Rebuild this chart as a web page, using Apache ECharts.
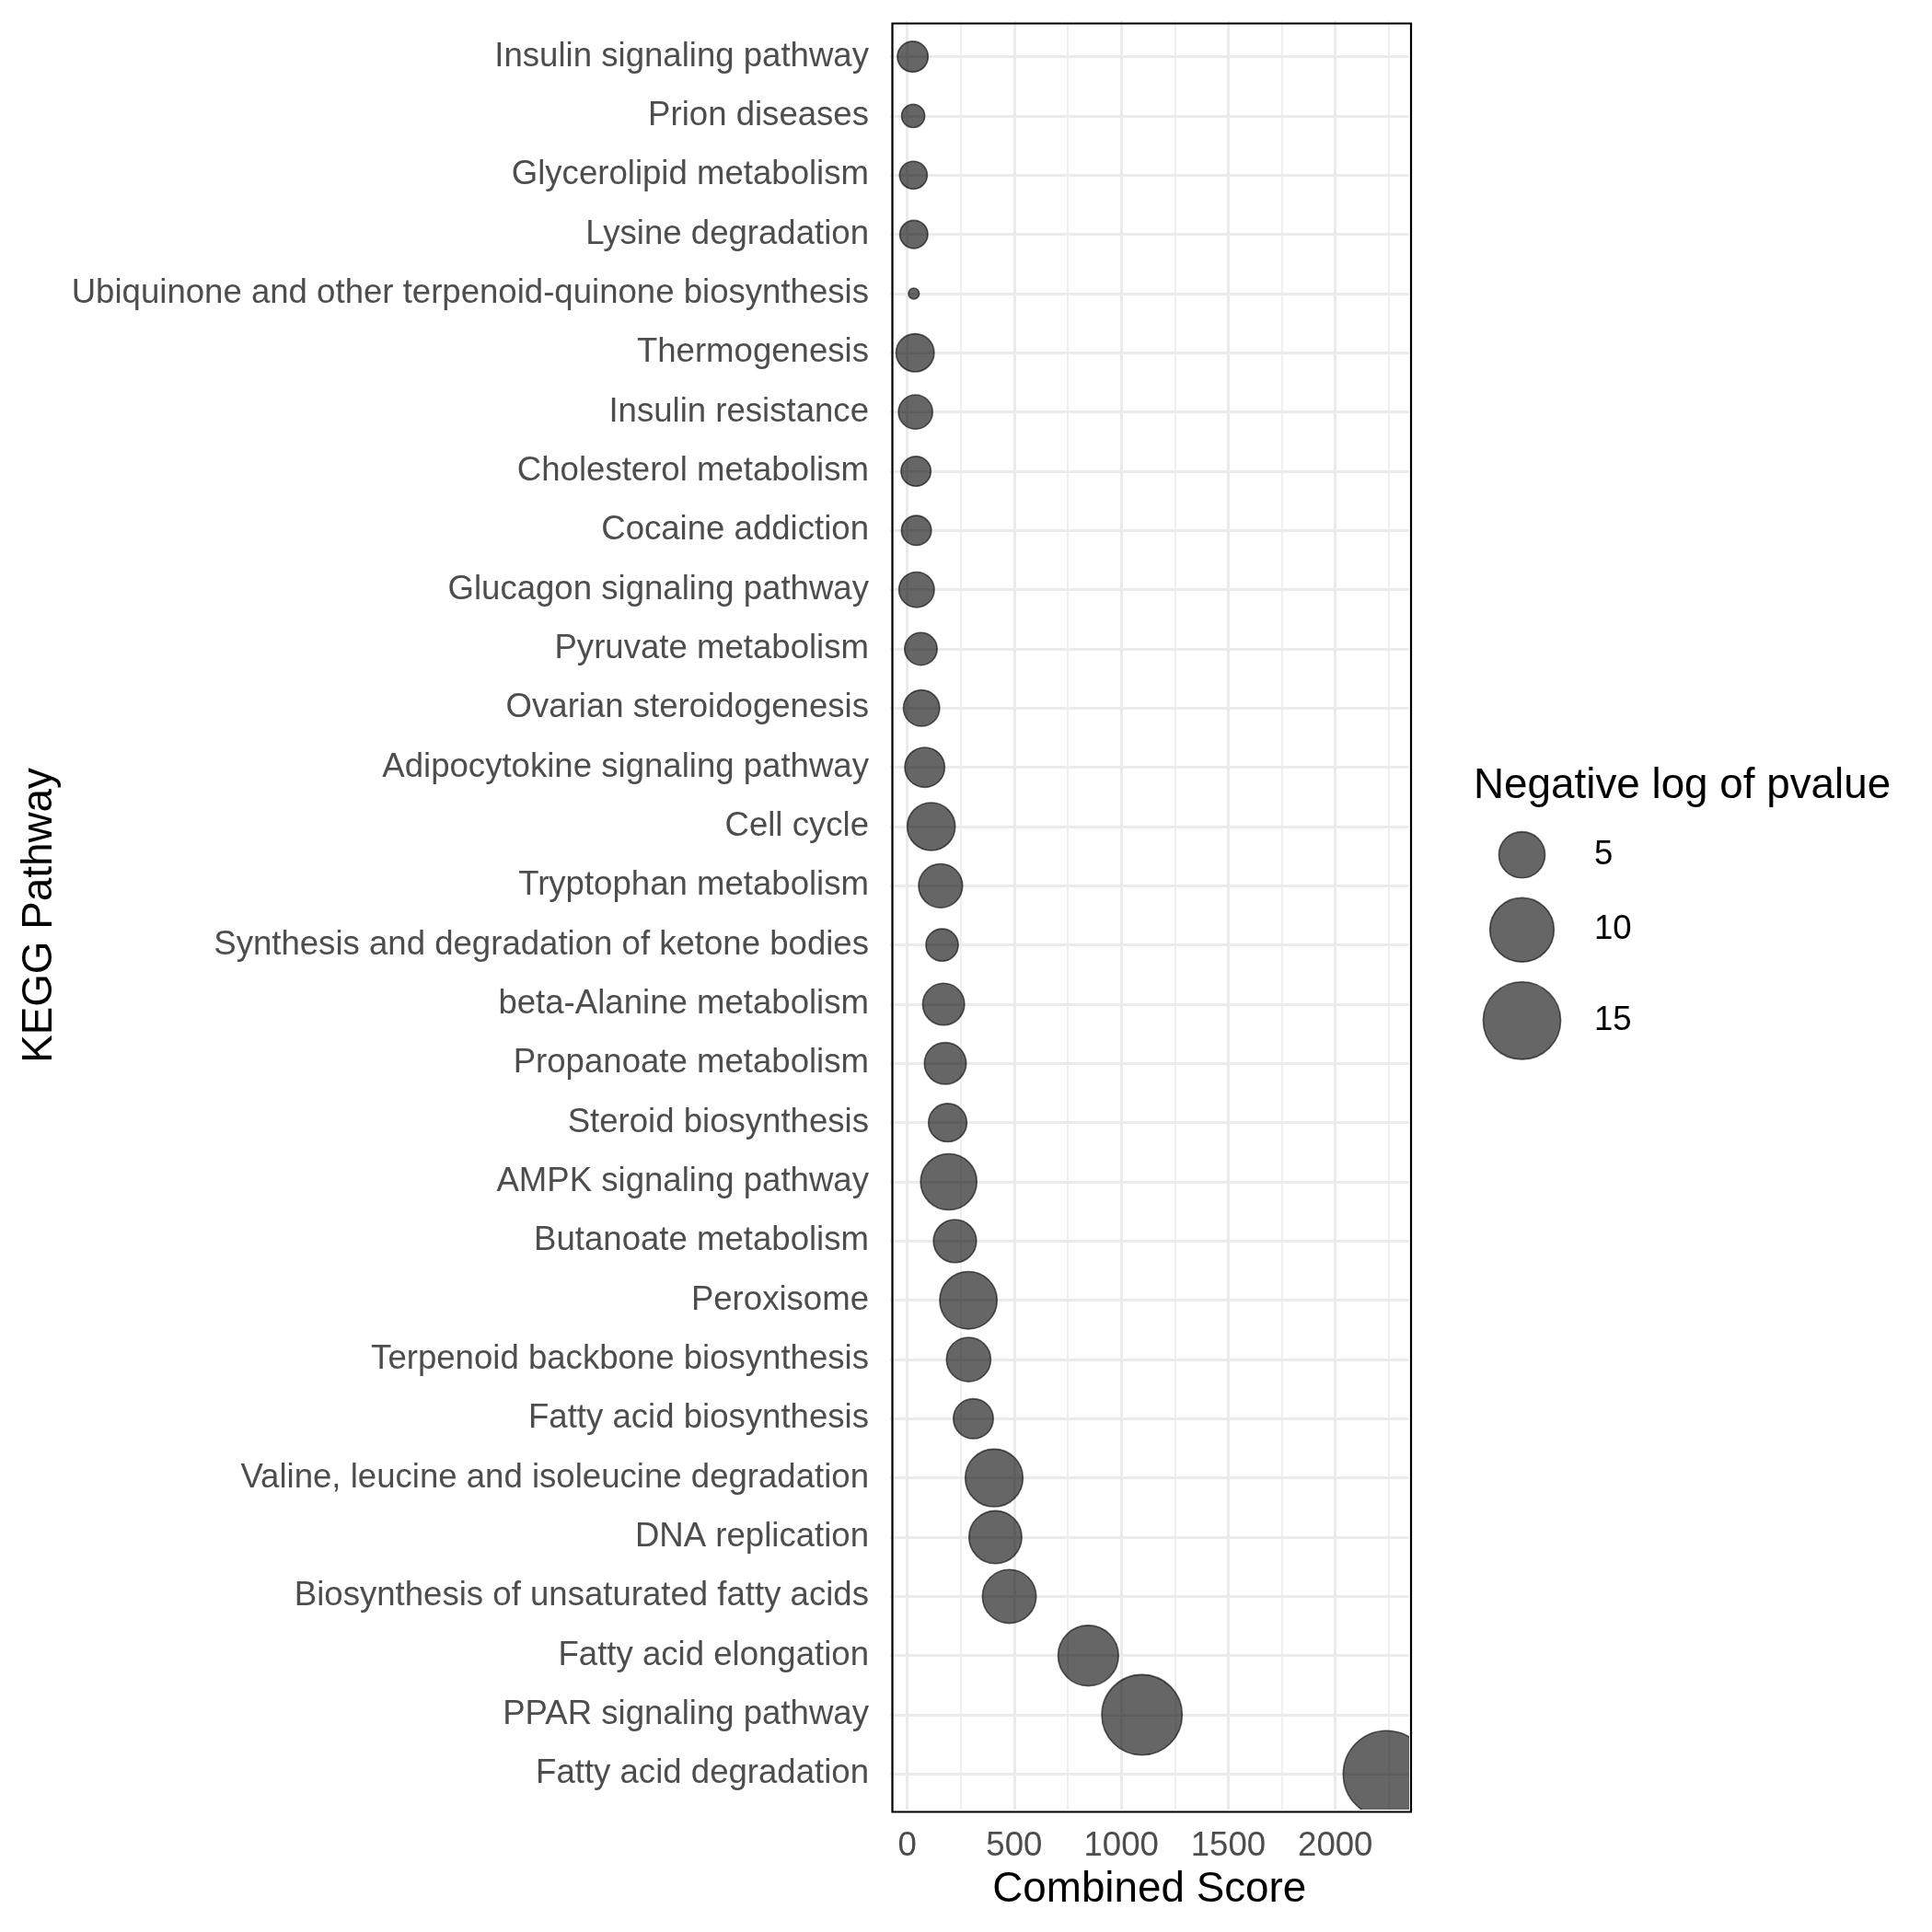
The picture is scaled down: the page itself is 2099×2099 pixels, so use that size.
<!DOCTYPE html>
<html>
<head>
<meta charset="utf-8">
<script src="https://cdn.jsdelivr.net/npm/echarts@6/dist/echarts.min.js"></script>
<style>
  html, body { margin: 0; padding: 0; background: #fff; }
  #chart { width: 2099px; height: 2099px; }
</style>
</head>
<body>
<div id="chart"></div>
<script>
// ---------------- data ----------------
const categories = [
  "Insulin signaling pathway",
  "Prion diseases",
  "Glycerolipid metabolism",
  "Lysine degradation",
  "Ubiquinone and other terpenoid-quinone biosynthesis",
  "Thermogenesis",
  "Insulin resistance",
  "Cholesterol metabolism",
  "Cocaine addiction",
  "Glucagon signaling pathway",
  "Pyruvate metabolism",
  "Ovarian steroidogenesis",
  "Adipocytokine signaling pathway",
  "Cell cycle",
  "Tryptophan metabolism",
  "Synthesis and degradation of ketone bodies",
  "beta-Alanine metabolism",
  "Propanoate metabolism",
  "Steroid biosynthesis",
  "AMPK signaling pathway",
  "Butanoate metabolism",
  "Peroxisome",
  "Terpenoid backbone biosynthesis",
  "Fatty acid biosynthesis",
  "Valine, leucine and isoleucine degradation",
  "DNA replication",
  "Biosynthesis of unsaturated fatty acids",
  "Fatty acid elongation",
  "PPAR signaling pathway",
  "Fatty acid degradation"
];
const combinedScore = [26, 28, 29, 31, 31, 37, 39, 41, 43, 44,
  64, 67, 82, 112, 156, 163, 170, 178, 189, 194,
  223, 286, 287, 309, 406, 412, 477, 846, 1097, 2240];
const negLogP = [2.34, 1.57, 1.99, 2.02, 1.10, 3.42, 2.80, 2.23, 2.23, 2.98,
  2.58, 3.12, 3.75, 5.41, 4.52, 2.54, 4.10, 4.10, 3.47, 7.55,
  4.33, 7.89, 4.60, 3.75, 7.97, 6.62, 6.86, 8.81, 16.26, 19.2];
const xTicks = [0, 500, 1000, 1500, 2000];
const xMinorTicks = [250, 750, 1250, 1750, 2250];
const legendValues = [5, 10, 15];

// ---------------- styling / layout ----------------
const FONT = "Liberation Sans";
const SMALL = 36.6, BIG = 45.8;
const PANEL = { left: 967, top: 23, width: 563.5, height: 1943 };
const X_MIN = -80, X_MAX = 2343;
const BORDER_W = 1.6;
const FILL = "rgba(0,0,0,0.6)";
const vMin = Math.min.apply(null, negLogP);
const vMax = Math.max.apply(null, negLogP);
function bubbleSize(v) {
  const t = Math.sqrt(Math.max(0, (v - vMin) / (vMax - vMin)));
  return 11.8 * (1 + 7 * t);
}
const yIdx = categories.map((_, i) => i);
const mainData = categories.map((c, i) => [combinedScore[i], i, negLogP[i]]);

// legend key layout (ggplot-like: key height = circle + padding)
const keyH = legendValues.map(v => bubbleSize(v) + BORDER_W + 20);
const keyTotal = keyH.reduce((a, b) => a + b, 0);
let acc = 0;
const legendCenterX = 53.5, legendLabelX = 132;
const legendData = legendValues.map((v, i) => {
  const c = acc + keyH[i] / 2; acc += keyH[i];
  return {
    value: [legendCenterX, c, v],
    label: { distance: legendLabelX - legendCenterX - (bubbleSize(v) + BORDER_W) / 2 }
  };
});

const gridLineColor = "#ebebeb";
const markLineData = []
  .concat(xMinorTicks.map(v => ({ xAxis: v, lineStyle: { width: 1.6, color: gridLineColor, type: "solid" } })))
  .concat(xTicks.map(v => ({ xAxis: v, lineStyle: { width: 3, color: gridLineColor, type: "solid" } })))
  .concat(yIdx.map(v => ({ yAxis: v, lineStyle: { width: 3, color: gridLineColor, type: "solid" } })));

const chart = echarts.init(document.getElementById("chart"), null, { renderer: "canvas" });
const option = {
  animation: false,
  backgroundColor: "#ffffff",
  textStyle: { fontFamily: FONT },
  title: {
    text: "Negative log of pvalue",
    left: 1601, top: 831, padding: 0,
    textStyle: { fontFamily: FONT, fontSize: BIG, fontWeight: "normal", color: "#000", lineHeight: 46 }
  },
  grid: [
    { left: PANEL.left, top: PANEL.top, width: PANEL.width, height: PANEL.height },
    { left: 1600, top: 892.85, width: 107, height: keyTotal }
  ],
  xAxis: [
    {
      type: "value", gridIndex: 0, min: X_MIN, max: X_MAX,
      axisLine: { show: false },
      axisTick: { show: true, customValues: xTicks, length: 4, lineStyle: { color: gridLineColor, width: 3 } },
      axisLabel: {
        customValues: xTicks, fontSize: SMALL, color: "#4d4d4d", margin: 21, lineHeight: 38, fontFamily: FONT,
        formatter: v => String(v)
      },
      splitLine: { show: false },
      name: "Combined Score", nameLocation: "middle", nameGap: 60,
      nameTextStyle: { fontSize: BIG, color: "#000", lineHeight: 46, fontFamily: FONT }
    },
    { type: "value", gridIndex: 1, min: 0, max: 107, show: false }
  ],
  yAxis: [
    {
      type: "value", gridIndex: 0, inverse: true, min: -0.6, max: 29.6,
      axisLine: { show: false },
      axisTick: { show: true, customValues: yIdx, length: 8, lineStyle: { color: gridLineColor, width: 3 } },
      axisLabel: {
        customValues: yIdx, fontSize: SMALL, color: "#4d4d4d", margin: 23, fontFamily: FONT,
        formatter: v => categories[Math.round(v)]
      },
      splitLine: { show: false },
      name: "KEGG Pathway", nameLocation: "middle", nameGap: 901, nameRotate: 90,
      nameTextStyle: { fontSize: BIG, color: "#000", lineHeight: 46, fontFamily: FONT }
    },
    { type: "value", gridIndex: 1, inverse: true, min: 0, max: keyTotal, show: false }
  ],
  series: [
    {
      type: "line", xAxisIndex: 0, yAxisIndex: 0, data: [], z: 1, silent: true,
      markLine: { silent: true, z: 1, symbol: "none", label: { show: false }, animation: false, data: markLineData }
    },
    {
      type: "custom", xAxisIndex: 0, yAxisIndex: 0, z: 3, clip: true,
      data: mainData,
      encode: { x: 0, y: 1 },
      renderItem: function (params, api) {
        const p = api.coord([api.value(0), api.value(1)]);
        return {
          type: "circle",
          shape: { cx: p[0], cy: p[1], r: bubbleSize(api.value(2)) / 2 },
          style: { fill: FILL, stroke: FILL, lineWidth: BORDER_W }
        };
      }
    },
    {
      type: "scatter", xAxisIndex: 1, yAxisIndex: 1, z: 3, clip: false,
      data: legendData,
      symbol: "circle",
      symbolSize: val => bubbleSize(val[2]),
      itemStyle: { color: FILL, borderColor: FILL, borderWidth: BORDER_W, opacity: 1 },
      label: { show: true, position: "right", formatter: p => String(p.value[2]), fontSize: SMALL, color: "#000", fontFamily: FONT }
    }
  ],
  graphic: [
    {
      type: "rect", z: 100, silent: true,
      left: PANEL.left, top: PANEL.top,
      shape: { x: 0, y: 0, width: PANEL.width, height: PANEL.height },
      style: { fill: null, stroke: "#000", lineWidth: 2.2 }
    }
  ]
};
chart.setOption(option);
</script>
</body>
</html>
